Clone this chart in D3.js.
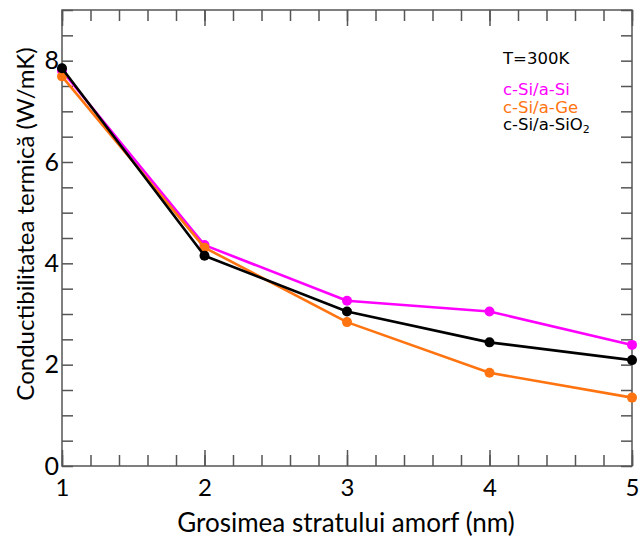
<!DOCTYPE html>
<html>
<head>
<meta charset="utf-8">
<script src="https://cdn.jsdelivr.net/npm/d3@7"></script>
<style>
  html, body { margin: 0; padding: 0; background: #fff; }
  svg text { font-family: Lato, "Open Sans", sans-serif; }
  svg .legend text { font-family: "DejaVu Sans", Verdana, sans-serif; }
</style>
</head>
<body>
<svg id="chart" width="639" height="539"></svg>
<script>
// Thickness of the amorphous layer (nm)
const thickness = [1, 2, 3, 4, 5];
// Thermal conductivity (W/mK) for each interface type
const siSi   = [7.80, 4.36, 3.26, 3.05, 2.39];
const siGe   = [7.69, 4.31, 2.84, 1.84, 1.35];
const siSiO2 = [7.85, 4.15, 3.05, 2.44, 2.09];

const seriesNames  = ["c-Si/a-Si", "c-Si/a-Ge", "c-Si/a-SiO2"];
const seriesColors = ["#ff00ff", "#ff7410", "#000000"];
const xTickValues = [1, 2, 3, 4, 5];
const yTickValues = [0, 2, 4, 6, 8];

const series = [
  { name: seriesNames[0], color: seriesColors[0], values: siSi },
  { name: seriesNames[1], color: seriesColors[1], values: siGe },
  { name: seriesNames[2], color: seriesColors[2], values: siSiO2 }
];

const svg = d3.select("#chart");
const plotLeft = 62, plotRight = 632, plotTop = 10, plotBottom = 466;

const x = d3.scaleLinear().domain([1, 5]).range([plotLeft, plotRight]);
const y = d3.scaleLinear().domain([0, 9]).range([plotBottom, plotTop]);

const axisColor = "#555";

// frame
svg.append("rect")
  .attr("x", plotLeft).attr("y", plotTop)
  .attr("width", plotRight - plotLeft).attr("height", plotBottom - plotTop)
  .attr("fill", "none").attr("stroke", axisColor).attr("stroke-width", 1.5);

const minorX = d3.range(1, 5.0001, 0.2);
const minorY = d3.range(0, 9.0001, 0.5);

function styleAxis(g) {
  g.select(".domain").remove();
  g.selectAll(".tick line").attr("stroke", axisColor).attr("stroke-width", 1.5);
}

// bottom: minor ticks, then major ticks with labels
svg.append("g").attr("transform", `translate(0,${plotBottom})`)
  .call(d3.axisTop(x).tickValues(minorX).tickSize(11).tickFormat(""))
  .call(styleAxis);
svg.append("g").attr("transform", `translate(0,${plotBottom})`)
  .call(d3.axisTop(x).tickValues(xTickValues).tickSize(16).tickFormat(d3.format("d")))
  .call(styleAxis)
  .call(g => g.selectAll(".tick text")
    .attr("y", 30).attr("dy", 0).attr("font-size", 24).attr("fill", "#000"));

// top: minor and major ticks pointing down
svg.append("g").attr("transform", `translate(0,${plotTop})`)
  .call(d3.axisBottom(x).tickValues(minorX).tickSize(11).tickFormat(""))
  .call(styleAxis);
svg.append("g").attr("transform", `translate(0,${plotTop})`)
  .call(d3.axisBottom(x).tickValues(xTickValues).tickSize(16).tickFormat(""))
  .call(styleAxis);

// left
svg.append("g").attr("transform", `translate(${plotLeft},0)`)
  .call(d3.axisRight(y).tickValues(minorY).tickSize(11).tickFormat(""))
  .call(styleAxis);
svg.append("g").attr("transform", `translate(${plotLeft},0)`)
  .call(d3.axisLeft(y).tickValues(yTickValues).tickSize(0).tickPadding(3).tickFormat(d3.format("d")))
  .call(styleAxis)
  .call(g => g.selectAll(".tick text").attr("font-size", 25).attr("fill", "#000"));

// right
svg.append("g").attr("transform", `translate(${plotRight},0)`)
  .call(d3.axisLeft(y).tickValues(minorY).tickSize(11).tickFormat(""))
  .call(styleAxis);

// series lines and markers
const line = d3.line().x((d, i) => x(thickness[i])).y(d => y(d));
series.forEach(s => {
  svg.append("path")
    .attr("d", line(s.values))
    .attr("fill", "none").attr("stroke", s.color).attr("stroke-width", 2.6)
    .attr("stroke-linejoin", "round");
  svg.selectAll(null).data(s.values).enter().append("circle")
    .attr("cx", (d, i) => x(thickness[i]))
    .attr("cy", d => y(d))
    .attr("r", 5)
    .attr("fill", s.color);
});

// axis titles
svg.append("text")
  .attr("x", 346).attr("y", 532)
  .attr("text-anchor", "middle").attr("font-size", 26)
  .text("Grosimea stratului amorf (nm)");
svg.append("text")
  .attr("transform", "translate(34,224) rotate(-90)")
  .attr("text-anchor", "middle").attr("font-size", 24)
  .text("Conductibilitatea termică (W/mK)");

// legend
const legend = svg.append("g").attr("class", "legend").attr("font-size", 16.5);
legend.append("text").attr("x", 503).attr("y", 64).text("T=300K");
series.forEach((s, i) => {
  const t = legend.append("text").attr("x", 503).attr("y", 95 + i * 17.5).attr("fill", s.color);
  if (s.name.endsWith("2")) {
    t.append("tspan").text(s.name.slice(0, -1));
    t.append("tspan").attr("font-size", 11).attr("dy", 3).text("2");
  } else {
    t.text(s.name);
  }
});
</script>
</body>
</html>
